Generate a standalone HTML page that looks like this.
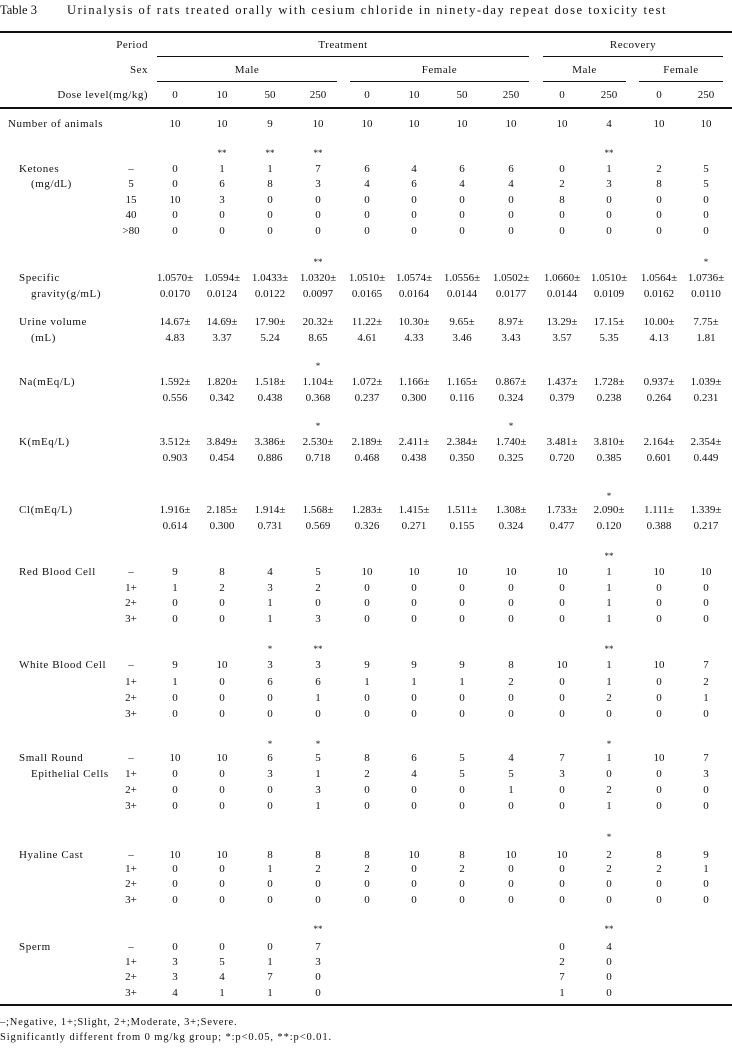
<!DOCTYPE html>
<html><head><meta charset="utf-8"><style>
body{margin:0;width:732px;height:1048px;background:#fff;position:relative;font-family:"Liberation Serif","Noto Serif CJK SC",serif;font-size:11px;color:#111;overflow:hidden}
.t{position:absolute;white-space:nowrap;line-height:14px;letter-spacing:0.5px}
.r{position:absolute;left:0;width:732px;height:14px;line-height:14px}
.r>*{position:absolute;top:0;white-space:nowrap;font-style:normal}
.a{left:19px;letter-spacing:0.6px}.b{left:31px;letter-spacing:0.6px}.n{left:8px;letter-spacing:0.6px}
.s{left:111px;width:40px;text-align:center}
i{width:60px;text-align:center}
.c1{left:145px}.c2{left:192px}.c3{left:240px}.c4{left:288px}.c5{left:337px}.c6{left:384px}.c7{left:432px}.c8{left:481px}.c9{left:532px}.c10{left:579px}.c11{left:629px}.c12{left:676px}
.l{position:absolute;background:#111}
.st{font-size:9px}
</style></head><body>
<div class="t" style="left:0;top:3px;font-size:12.5px;letter-spacing:0">Table 3</div>
<div class="t" style="left:67px;top:3px;font-size:12.5px;letter-spacing:1.55px">Urinalysis of rats treated orally with cesium chloride in ninety-day repeat dose toxicity test</div>
<div class="l" style="left:0;top:31px;width:732px;height:2px"></div>
<div class="t" style="left:0;width:148px;text-align:right;top:38px">Period</div>
<div class="t" style="left:0;width:148px;text-align:right;top:63px">Sex</div>
<div class="t" style="left:0;width:148px;text-align:right;top:88px">Dose level(mg/kg)</div>
<div class="t" style="left:157px;width:372px;text-align:center;top:38px">Treatment</div>
<div class="t" style="left:543px;width:180px;text-align:center;top:38px">Recovery</div>
<div class="l" style="left:157px;top:56px;width:372px;height:1px"></div>
<div class="l" style="left:543px;top:56px;width:180px;height:1px"></div>
<div class="t" style="left:157px;width:180px;text-align:center;top:63px">Male</div>
<div class="t" style="left:350px;width:179px;text-align:center;top:63px">Female</div>
<div class="t" style="left:543px;width:83px;text-align:center;top:63px">Male</div>
<div class="t" style="left:639px;width:84px;text-align:center;top:63px">Female</div>
<div class="l" style="left:157px;top:81px;width:180px;height:1px"></div>
<div class="l" style="left:350px;top:81px;width:179px;height:1px"></div>
<div class="l" style="left:543px;top:81px;width:83px;height:1px"></div>
<div class="l" style="left:639px;top:81px;width:84px;height:1px"></div>
<div class="r" style="top:88px"><i class="c1">0</i><i class="c2">10</i><i class="c3">50</i><i class="c4">250</i><i class="c5">0</i><i class="c6">10</i><i class="c7">50</i><i class="c8">250</i><i class="c9">0</i><i class="c10">250</i><i class="c11">0</i><i class="c12">250</i></div>
<div class="l" style="left:0;top:107px;width:732px;height:2px"></div>

<div class="r" style="top:117px"><span class="n">Number of animals</span><i class="c1">10</i><i class="c2">10</i><i class="c3">9</i><i class="c4">10</i><i class="c5">10</i><i class="c6">10</i><i class="c7">10</i><i class="c8">10</i><i class="c9">10</i><i class="c10">4</i><i class="c11">10</i><i class="c12">10</i></div>

<div class="r st" style="top:146px"><i class="c2">**</i><i class="c3">**</i><i class="c4">**</i><i class="c10">**</i></div>
<div class="r" style="top:162px"><span class="a">Ketones</span><span class="s">–</span><i class="c1">0</i><i class="c2">1</i><i class="c3">1</i><i class="c4">7</i><i class="c5">6</i><i class="c6">4</i><i class="c7">6</i><i class="c8">6</i><i class="c9">0</i><i class="c10">1</i><i class="c11">2</i><i class="c12">5</i></div>
<div class="r" style="top:177px"><span class="b">(mg/dL)</span><span class="s">5</span><i class="c1">0</i><i class="c2">6</i><i class="c3">8</i><i class="c4">3</i><i class="c5">4</i><i class="c6">6</i><i class="c7">4</i><i class="c8">4</i><i class="c9">2</i><i class="c10">3</i><i class="c11">8</i><i class="c12">5</i></div>
<div class="r" style="top:193px"><span class="s">15</span><i class="c1">10</i><i class="c2">3</i><i class="c3">0</i><i class="c4">0</i><i class="c5">0</i><i class="c6">0</i><i class="c7">0</i><i class="c8">0</i><i class="c9">8</i><i class="c10">0</i><i class="c11">0</i><i class="c12">0</i></div>
<div class="r" style="top:208px"><span class="s">40</span><i class="c1">0</i><i class="c2">0</i><i class="c3">0</i><i class="c4">0</i><i class="c5">0</i><i class="c6">0</i><i class="c7">0</i><i class="c8">0</i><i class="c9">0</i><i class="c10">0</i><i class="c11">0</i><i class="c12">0</i></div>
<div class="r" style="top:224px"><span class="s">&gt;80</span><i class="c1">0</i><i class="c2">0</i><i class="c3">0</i><i class="c4">0</i><i class="c5">0</i><i class="c6">0</i><i class="c7">0</i><i class="c8">0</i><i class="c9">0</i><i class="c10">0</i><i class="c11">0</i><i class="c12">0</i></div>

<div class="r st" style="top:255px"><i class="c4">**</i><i class="c12">*</i></div>
<div class="r" style="top:271px"><span class="a">Specific</span><i class="c1">1.0570±</i><i class="c2">1.0594±</i><i class="c3">1.0433±</i><i class="c4">1.0320±</i><i class="c5">1.0510±</i><i class="c6">1.0574±</i><i class="c7">1.0556±</i><i class="c8">1.0502±</i><i class="c9">1.0660±</i><i class="c10">1.0510±</i><i class="c11">1.0564±</i><i class="c12">1.0736±</i></div>
<div class="r" style="top:287px"><span class="b">gravity(g/mL)</span><i class="c1">0.0170</i><i class="c2">0.0124</i><i class="c3">0.0122</i><i class="c4">0.0097</i><i class="c5">0.0165</i><i class="c6">0.0164</i><i class="c7">0.0144</i><i class="c8">0.0177</i><i class="c9">0.0144</i><i class="c10">0.0109</i><i class="c11">0.0162</i><i class="c12">0.0110</i></div>

<div class="r" style="top:315px"><span class="a">Urine volume</span><i class="c1">14.67±</i><i class="c2">14.69±</i><i class="c3">17.90±</i><i class="c4">20.32±</i><i class="c5">11.22±</i><i class="c6">10.30±</i><i class="c7">9.65±</i><i class="c8">8.97±</i><i class="c9">13.29±</i><i class="c10">17.15±</i><i class="c11">10.00±</i><i class="c12">7.75±</i></div>
<div class="r" style="top:331px"><span class="b">(mL)</span><i class="c1">4.83</i><i class="c2">3.37</i><i class="c3">5.24</i><i class="c4">8.65</i><i class="c5">4.61</i><i class="c6">4.33</i><i class="c7">3.46</i><i class="c8">3.43</i><i class="c9">3.57</i><i class="c10">5.35</i><i class="c11">4.13</i><i class="c12">1.81</i></div>

<div class="r st" style="top:359px"><i class="c4">*</i></div>
<div class="r" style="top:375px"><span class="a">Na(mEq/L)</span><i class="c1">1.592±</i><i class="c2">1.820±</i><i class="c3">1.518±</i><i class="c4">1.104±</i><i class="c5">1.072±</i><i class="c6">1.166±</i><i class="c7">1.165±</i><i class="c8">0.867±</i><i class="c9">1.437±</i><i class="c10">1.728±</i><i class="c11">0.937±</i><i class="c12">1.039±</i></div>
<div class="r" style="top:391px"><i class="c1">0.556</i><i class="c2">0.342</i><i class="c3">0.438</i><i class="c4">0.368</i><i class="c5">0.237</i><i class="c6">0.300</i><i class="c7">0.116</i><i class="c8">0.324</i><i class="c9">0.379</i><i class="c10">0.238</i><i class="c11">0.264</i><i class="c12">0.231</i></div>

<div class="r st" style="top:419px"><i class="c4">*</i><i class="c8">*</i></div>
<div class="r" style="top:435px"><span class="a">K(mEq/L)</span><i class="c1">3.512±</i><i class="c2">3.849±</i><i class="c3">3.386±</i><i class="c4">2.530±</i><i class="c5">2.189±</i><i class="c6">2.411±</i><i class="c7">2.384±</i><i class="c8">1.740±</i><i class="c9">3.481±</i><i class="c10">3.810±</i><i class="c11">2.164±</i><i class="c12">2.354±</i></div>
<div class="r" style="top:451px"><i class="c1">0.903</i><i class="c2">0.454</i><i class="c3">0.886</i><i class="c4">0.718</i><i class="c5">0.468</i><i class="c6">0.438</i><i class="c7">0.350</i><i class="c8">0.325</i><i class="c9">0.720</i><i class="c10">0.385</i><i class="c11">0.601</i><i class="c12">0.449</i></div>

<div class="r st" style="top:489px"><i class="c10">*</i></div>
<div class="r" style="top:503px"><span class="a">Cl(mEq/L)</span><i class="c1">1.916±</i><i class="c2">2.185±</i><i class="c3">1.914±</i><i class="c4">1.568±</i><i class="c5">1.283±</i><i class="c6">1.415±</i><i class="c7">1.511±</i><i class="c8">1.308±</i><i class="c9">1.733±</i><i class="c10">2.090±</i><i class="c11">1.111±</i><i class="c12">1.339±</i></div>
<div class="r" style="top:519px"><i class="c1">0.614</i><i class="c2">0.300</i><i class="c3">0.731</i><i class="c4">0.569</i><i class="c5">0.326</i><i class="c6">0.271</i><i class="c7">0.155</i><i class="c8">0.324</i><i class="c9">0.477</i><i class="c10">0.120</i><i class="c11">0.388</i><i class="c12">0.217</i></div>

<div class="r st" style="top:549px"><i class="c10">**</i></div>
<div class="r" style="top:565px"><span class="a">Red Blood Cell</span><span class="s">–</span><i class="c1">9</i><i class="c2">8</i><i class="c3">4</i><i class="c4">5</i><i class="c5">10</i><i class="c6">10</i><i class="c7">10</i><i class="c8">10</i><i class="c9">10</i><i class="c10">1</i><i class="c11">10</i><i class="c12">10</i></div>
<div class="r" style="top:581px"><span class="s">1+</span><i class="c1">1</i><i class="c2">2</i><i class="c3">3</i><i class="c4">2</i><i class="c5">0</i><i class="c6">0</i><i class="c7">0</i><i class="c8">0</i><i class="c9">0</i><i class="c10">1</i><i class="c11">0</i><i class="c12">0</i></div>
<div class="r" style="top:596px"><span class="s">2+</span><i class="c1">0</i><i class="c2">0</i><i class="c3">1</i><i class="c4">0</i><i class="c5">0</i><i class="c6">0</i><i class="c7">0</i><i class="c8">0</i><i class="c9">0</i><i class="c10">1</i><i class="c11">0</i><i class="c12">0</i></div>
<div class="r" style="top:612px"><span class="s">3+</span><i class="c1">0</i><i class="c2">0</i><i class="c3">1</i><i class="c4">3</i><i class="c5">0</i><i class="c6">0</i><i class="c7">0</i><i class="c8">0</i><i class="c9">0</i><i class="c10">1</i><i class="c11">0</i><i class="c12">0</i></div>

<div class="r st" style="top:642px"><i class="c3">*</i><i class="c4">**</i><i class="c10">**</i></div>
<div class="r" style="top:658px"><span class="a">White Blood Cell</span><span class="s">–</span><i class="c1">9</i><i class="c2">10</i><i class="c3">3</i><i class="c4">3</i><i class="c5">9</i><i class="c6">9</i><i class="c7">9</i><i class="c8">8</i><i class="c9">10</i><i class="c10">1</i><i class="c11">10</i><i class="c12">7</i></div>
<div class="r" style="top:675px"><span class="s">1+</span><i class="c1">1</i><i class="c2">0</i><i class="c3">6</i><i class="c4">6</i><i class="c5">1</i><i class="c6">1</i><i class="c7">1</i><i class="c8">2</i><i class="c9">0</i><i class="c10">1</i><i class="c11">0</i><i class="c12">2</i></div>
<div class="r" style="top:691px"><span class="s">2+</span><i class="c1">0</i><i class="c2">0</i><i class="c3">0</i><i class="c4">1</i><i class="c5">0</i><i class="c6">0</i><i class="c7">0</i><i class="c8">0</i><i class="c9">0</i><i class="c10">2</i><i class="c11">0</i><i class="c12">1</i></div>
<div class="r" style="top:707px"><span class="s">3+</span><i class="c1">0</i><i class="c2">0</i><i class="c3">0</i><i class="c4">0</i><i class="c5">0</i><i class="c6">0</i><i class="c7">0</i><i class="c8">0</i><i class="c9">0</i><i class="c10">0</i><i class="c11">0</i><i class="c12">0</i></div>

<div class="r st" style="top:737px"><i class="c3">*</i><i class="c4">*</i><i class="c10">*</i></div>
<div class="r" style="top:751px"><span class="a">Small Round</span><span class="s">–</span><i class="c1">10</i><i class="c2">10</i><i class="c3">6</i><i class="c4">5</i><i class="c5">8</i><i class="c6">6</i><i class="c7">5</i><i class="c8">4</i><i class="c9">7</i><i class="c10">1</i><i class="c11">10</i><i class="c12">7</i></div>
<div class="r" style="top:767px"><span class="b">Epithelial Cells</span><span class="s">1+</span><i class="c1">0</i><i class="c2">0</i><i class="c3">3</i><i class="c4">1</i><i class="c5">2</i><i class="c6">4</i><i class="c7">5</i><i class="c8">5</i><i class="c9">3</i><i class="c10">0</i><i class="c11">0</i><i class="c12">3</i></div>
<div class="r" style="top:783px"><span class="s">2+</span><i class="c1">0</i><i class="c2">0</i><i class="c3">0</i><i class="c4">3</i><i class="c5">0</i><i class="c6">0</i><i class="c7">0</i><i class="c8">1</i><i class="c9">0</i><i class="c10">2</i><i class="c11">0</i><i class="c12">0</i></div>
<div class="r" style="top:799px"><span class="s">3+</span><i class="c1">0</i><i class="c2">0</i><i class="c3">0</i><i class="c4">1</i><i class="c5">0</i><i class="c6">0</i><i class="c7">0</i><i class="c8">0</i><i class="c9">0</i><i class="c10">1</i><i class="c11">0</i><i class="c12">0</i></div>

<div class="r st" style="top:830px"><i class="c10">*</i></div>
<div class="r" style="top:848px"><span class="a">Hyaline Cast</span><span class="s">–</span><i class="c1">10</i><i class="c2">10</i><i class="c3">8</i><i class="c4">8</i><i class="c5">8</i><i class="c6">10</i><i class="c7">8</i><i class="c8">10</i><i class="c9">10</i><i class="c10">2</i><i class="c11">8</i><i class="c12">9</i></div>
<div class="r" style="top:862px"><span class="s">1+</span><i class="c1">0</i><i class="c2">0</i><i class="c3">1</i><i class="c4">2</i><i class="c5">2</i><i class="c6">0</i><i class="c7">2</i><i class="c8">0</i><i class="c9">0</i><i class="c10">2</i><i class="c11">2</i><i class="c12">1</i></div>
<div class="r" style="top:877px"><span class="s">2+</span><i class="c1">0</i><i class="c2">0</i><i class="c3">0</i><i class="c4">0</i><i class="c5">0</i><i class="c6">0</i><i class="c7">0</i><i class="c8">0</i><i class="c9">0</i><i class="c10">0</i><i class="c11">0</i><i class="c12">0</i></div>
<div class="r" style="top:893px"><span class="s">3+</span><i class="c1">0</i><i class="c2">0</i><i class="c3">0</i><i class="c4">0</i><i class="c5">0</i><i class="c6">0</i><i class="c7">0</i><i class="c8">0</i><i class="c9">0</i><i class="c10">0</i><i class="c11">0</i><i class="c12">0</i></div>

<div class="r st" style="top:922px"><i class="c4">**</i><i class="c10">**</i></div>
<div class="r" style="top:940px"><span class="a">Sperm</span><span class="s">–</span><i class="c1">0</i><i class="c2">0</i><i class="c3">0</i><i class="c4">7</i><i class="c9">0</i><i class="c10">4</i></div>
<div class="r" style="top:955px"><span class="s">1+</span><i class="c1">3</i><i class="c2">5</i><i class="c3">1</i><i class="c4">3</i><i class="c9">2</i><i class="c10">0</i></div>
<div class="r" style="top:970px"><span class="s">2+</span><i class="c1">3</i><i class="c2">4</i><i class="c3">7</i><i class="c4">0</i><i class="c9">7</i><i class="c10">0</i></div>
<div class="r" style="top:986px"><span class="s">3+</span><i class="c1">4</i><i class="c2">1</i><i class="c3">1</i><i class="c4">0</i><i class="c9">1</i><i class="c10">0</i></div>

<div class="l" style="left:0;top:1004px;width:732px;height:2px"></div>
<div class="t" style="left:0;top:1016px;font-size:10.5px;letter-spacing:0.8px">–;Negative, 1+;Slight, 2+;Moderate, 3+;Severe.</div>
<div class="t" style="left:0;top:1031px;font-size:10.5px;letter-spacing:0.9px">Significantly different from 0 mg/kg group; *:p&lt;0.05, **:p&lt;0.01.</div>
</body></html>
